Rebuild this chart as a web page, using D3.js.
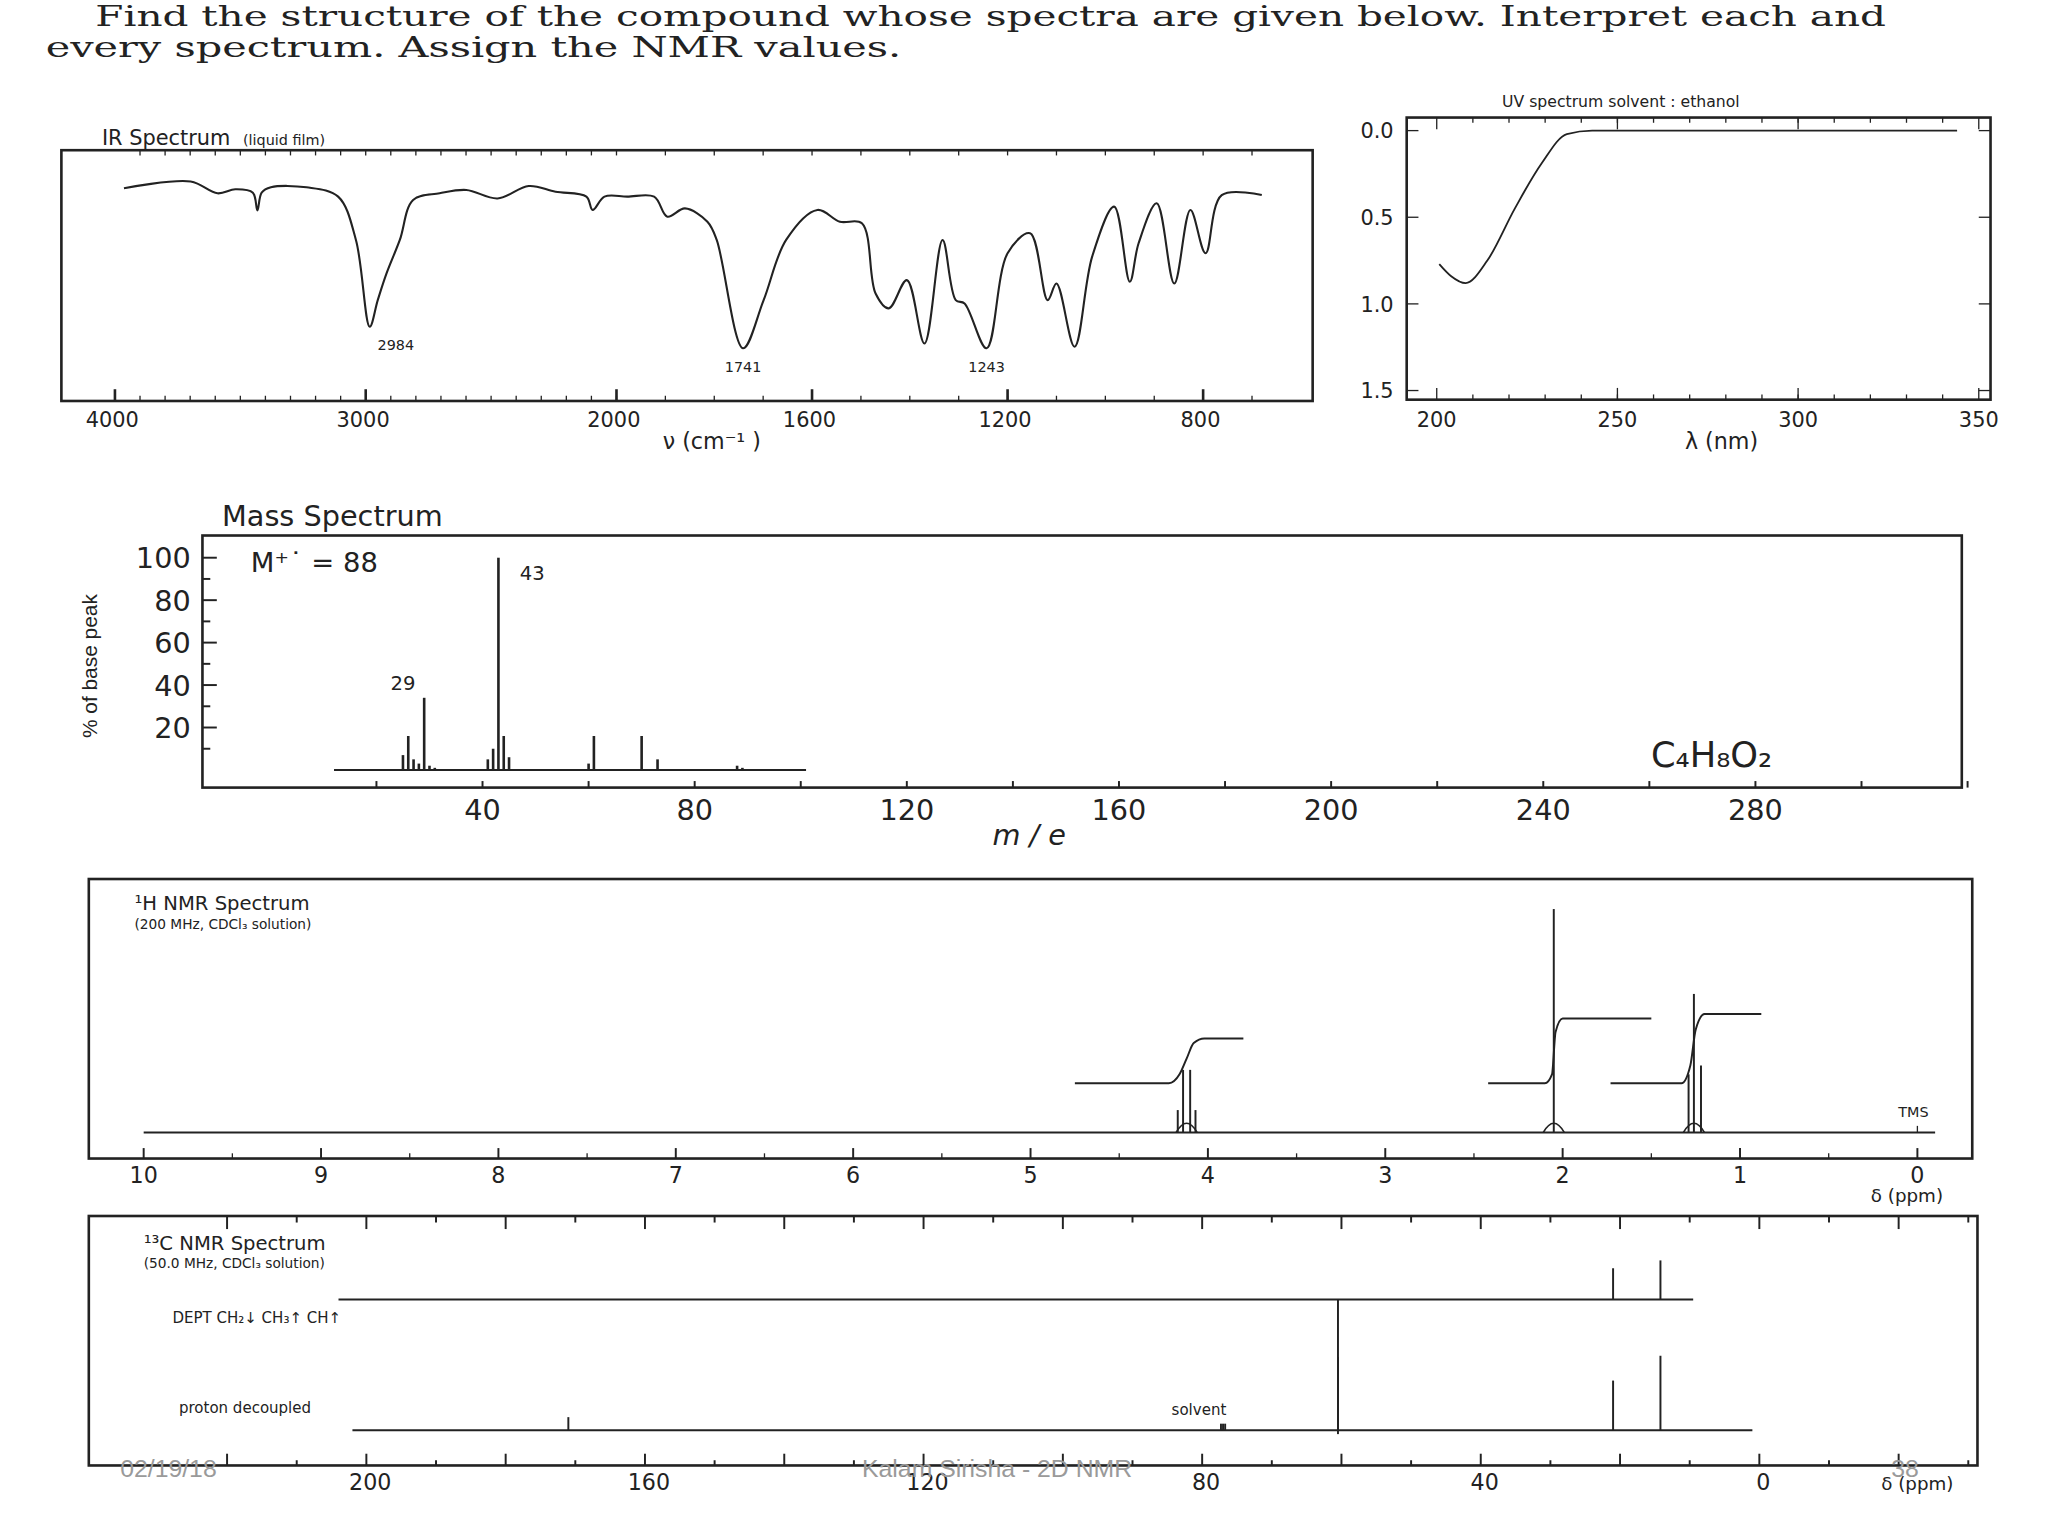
<!DOCTYPE html>
<html><head><meta charset="utf-8">
<script src="https://cdn.jsdelivr.net/npm/d3@7"></script>
<style>
body{margin:0;background:#fff}
svg{display:block}
</style></head>
<body>
<script>
// IR: [wavenumber, %T]
const irData = [[3964,87],[3698,90],[3591,84.7],[3520,86.5],[3450,85],[3432,77],[3415,85],[3378,87.4],[3236,87.4],[3110,83.2],[3039,63.7],[2984,24.6],[2952,36.6],[2917,48.6],[2864,63.7],[2811,81.7],[2705,84.7],[2599,86.2],[2474,82.4],[2350,88],[2243,85.4],[2120,83.2],[2095,77.2],[2048,83.2],[1978,83.2],[1923,83.2],[1896,74.2],[1860,77.9],[1814,71.9],[1795,63.7],[1741,14.9],[1699,36.6],[1653,63.7],[1589,77.2],[1543,71.9],[1498,71.2],[1470,39.6],[1443,32.9],[1406,45.6],[1370,17.1],[1333,63.7],[1306,36.6],[1288,35.1],[1243,14.9],[1200,57.7],[1154,66.7],[1118,36.6],[1100,44.1],[1063,15.6],[1027,56.2],[982,78.7],[950,44.9],[932,62.2],[895,80.2],[859,44.1],[826,77.2],[795,57.7],[762,83.9],[680,83.9]]
const irLabels = [2984, 1741, 1243]
const irTicks = [4000, 3000, 2000, 1600, 1200, 800]
// UV: [nm, absorbance]
const uvData = [[200.7,0.77],[204,0.84],[208,0.88],[214,0.75],[221.6,0.45],[229,0.19],[236,0.02],[243,0],[300,0],[344,0]]
const uvXTicks = [200, 250, 300, 350]
const uvYTicks = [0, 0.5, 1.0, 1.5]
// Mass: [m/e, % of base]
const msPeaks = [[25,7],[26,16],[27,5],[28,3],[29,34],[30,2],[31,1],[41,5],[42,10],[43,100],[44,16],[45,6],[60,3],[61,16],[70,16],[73,5],[88,2],[89,1]]
const msXTicks = [40, 80, 120, 160, 200, 240, 280]
const msYTicks = [20, 40, 60, 80, 100]
// 1H NMR: [ppm, relative height]
const hLines = [[4.17,10],[4.14,28],[4.10,28],[4.07,10],[2.05,100],[1.29,26],[1.26,62],[1.22,30]]
const hIntegrals = [
  [[4.75,22],[4.22,22],[4.16,26],[4.12,33],[4.08,40],[4.02,42],[3.8,42]],
  [[2.42,22],[2.1,22],[2.06,26],[2.04,45],[2.0,51],[1.5,51]],
  [[1.73,22],[1.33,22],[1.28,30],[1.25,46],[1.2,53],[0.88,53]]
]
const hTicks = [10, 9, 8, 7, 6, 5, 4, 3, 2, 1, 0]
// 13C NMR: [ppm, height]
const cDecoupled = [[171,10],[77.3,5],[77.0,5],[76.7,5],[60.5,56],[21,38],[14.2,57]]
const cDept = [[60.5,-103],[21,24],[14.2,30]]
const cTicks = [200, 160, 120, 80, 40, 0]

const svg = d3.select('body').append('svg')
  .attr('width', 2048).attr('height', 1536)
  .attr('viewBox', '0 0 1568 1176')
const ink = '#222'
const wide = '"DejaVu Sans", Verdana, sans-serif'

function txt(x, y, s, size, opts = {}) {
  return svg.append('text').attr('x', x).attr('y', y)
    .attr('font-size', size)
    .attr('text-anchor', opts.anchor || 'start')
    .style('font-family', opts.font || '"Liberation Sans", Arial, sans-serif')
    .style('font-style', opts.italic ? 'italic' : 'normal')
    .style('fill', opts.fill || ink)
    .text(s)
}
function frame(x0, y0, x1, y1) {
  svg.append('rect').attr('x', x0).attr('y', y0).attr('width', x1 - x0).attr('height', y1 - y0)
    .attr('fill', 'none').attr('stroke', ink).attr('stroke-width', 2)
}

// title
const serif = '"DejaVu Serif", "Liberation Serif", serif'
txt(73, 20, 'Find the structure of the compound whose spectra are given below. Interpret each and', 21, { font: serif })
  .attr('textLength', 1371).attr('lengthAdjust', 'spacingAndGlyphs')
txt(35, 44, 'every spectrum. Assign the NMR values.', 21, { font: serif })
  .attr('textLength', 655).attr('lengthAdjust', 'spacingAndGlyphs')

// ---- IR ----
const irX = d3.scaleLinear().domain([4000, 2000, 600]).range([88, 472, 996])
const irY = d3.scaleLinear().domain([0, 100]).range([292, 122])
frame(47, 115, 1005, 307)
svg.append('path').datum(irData)
  .attr('d', d3.line().x(d => irX(d[0])).y(d => irY(d[1])).curve(d3.curveCatmullRom))
  .attr('fill', 'none').attr('stroke', ink).attr('stroke-width', 1.6)
d3.range(3900, 600, -100).forEach(v => {
  svg.append('line').attr('x1', irX(v)).attr('x2', irX(v)).attr('y1', 307).attr('y2', 303).attr('stroke', ink)
  svg.append('line').attr('x1', irX(v)).attr('x2', irX(v)).attr('y1', 115).attr('y2', 119).attr('stroke', ink)
})
irTicks.forEach(v => {
  svg.append('line').attr('x1', irX(v)).attr('x2', irX(v)).attr('y1', 307).attr('y2', 298).attr('stroke', ink).attr('stroke-width', 2)
  txt(irX(v) - 2, 327, v, 16, { anchor: 'middle', font: wide })
})
irLabels.forEach(v => {
  const p = irData.find(d => d[0] === v)
  txt(irX(v) + (v === 2984 ? 20 : 0), irY(p[1]) + 18, v, 11, { anchor: 'middle', font: wide })
})
txt(78, 111, 'IR Spectrum', 16, { font: wide })
txt(186, 111, '(liquid film)', 11, { font: wide })
txt(545, 344, 'ν  (cm⁻¹ )', 17, { anchor: 'middle', font: wide })

// ---- UV ----
const uvX = d3.scaleLinear().domain([200, 350]).range([1100, 1515])
const uvY = d3.scaleLinear().domain([0, 1.5]).range([100, 299])
frame(1077, 90, 1524, 306)
svg.append('path').datum(uvData)
  .attr('d', d3.line().x(d => uvX(d[0])).y(d => uvY(d[1])).curve(d3.curveMonotoneX))
  .attr('fill', 'none').attr('stroke', ink).attr('stroke-width', 1.4)
uvXTicks.forEach(v => {
  txt(uvX(v), 327, v, 16, { anchor: 'middle', font: wide })
  svg.append('line').attr('x1', uvX(v)).attr('x2', uvX(v)).attr('y1', 306).attr('y2', 297).attr('stroke', ink)
  svg.append('line').attr('x1', uvX(v)).attr('x2', uvX(v)).attr('y1', 90).attr('y2', 99).attr('stroke', ink)
})
d3.range(210, 350, 10).forEach(v => {
  svg.append('line').attr('x1', uvX(v)).attr('x2', uvX(v)).attr('y1', 306).attr('y2', 302).attr('stroke', ink)
  svg.append('line').attr('x1', uvX(v)).attr('x2', uvX(v)).attr('y1', 90).attr('y2', 94).attr('stroke', ink)
})
uvYTicks.forEach(v => {
  txt(1067, uvY(v) + 6, v.toFixed(1), 16, { anchor: 'end', font: wide })
  svg.append('line').attr('x1', 1077).attr('x2', 1086).attr('y1', uvY(v)).attr('y2', uvY(v)).attr('stroke', ink)
  svg.append('line').attr('x1', 1515).attr('x2', 1524).attr('y1', uvY(v)).attr('y2', uvY(v)).attr('stroke', ink)
})
txt(1150, 82, 'UV spectrum   solvent : ethanol', 12, { font: wide })
txt(1318, 344, 'λ (nm)', 17, { anchor: 'middle', font: wide })

// ---- Mass ----
const msX = d3.scaleLinear().domain([0, 280]).range([207, 1344])
const msY = d3.scaleLinear().domain([0, 100]).range([589.5, 427])
frame(155, 410, 1502, 603)
svg.append('line').attr('x1', msX(12)).attr('x2', msX(101)).attr('y1', msY(0)).attr('y2', msY(0)).attr('stroke', ink).attr('stroke-width', 1.5)
svg.selectAll('.ms').data(msPeaks).join('line')
  .attr('x1', d => msX(d[0])).attr('x2', d => msX(d[0]))
  .attr('y1', msY(0)).attr('y2', d => msY(d[1]))
  .attr('stroke', ink).attr('stroke-width', 2)
msXTicks.forEach(v => txt(msX(v), 628, v, 22, { anchor: 'middle', font: wide }))
d3.range(20, 340, 20).forEach(v => {
  svg.append('line').attr('x1', msX(v)).attr('x2', msX(v)).attr('y1', 603).attr('y2', 598).attr('stroke', ink).attr('stroke-width', 1.5)
})
msYTicks.forEach(v => txt(146, msY(v) + 8, v, 22, { anchor: 'end', font: wide }))
d3.range(10, 101, 10).forEach(v => {
  svg.append('line').attr('x1', 155).attr('x2', v % 20 ? 161 : 166).attr('y1', msY(v)).attr('y2', msY(v)).attr('stroke', ink).attr('stroke-width', 1.5)
})
txt(170, 403, 'Mass Spectrum', 22, { font: wide })
txt(74, 510, '% of base peak', 16, { anchor: 'middle', font: '"Liberation Sans Narrow", sans-serif' })
  .attr('transform', 'rotate(-90,74,510)')
txt(192, 438, 'M⁺˙ =  88', 21, { font: wide })
txt(398, 444, '43', 15, { font: wide })
txt(299, 528, '29', 15, { font: wide })
txt(1264, 587, 'C₄H₈O₂', 27, { font: wide })
txt(788, 647, 'm / e', 22, { anchor: 'middle', italic: true, font: wide })

// ---- 1H NMR ----
const hX = d3.scaleLinear().domain([10, 0]).range([110, 1468])
const hY = d3.scaleLinear().domain([0, 100]).range([867, 696])
frame(68, 673, 1510, 887)
svg.append('line').attr('x1', hX(10)).attr('x2', hX(-0.1)).attr('y1', hY(0)).attr('y2', hY(0)).attr('stroke', ink).attr('stroke-width', 1.5)
svg.selectAll('.hl').data(hLines).join('line')
  .attr('x1', d => hX(d[0])).attr('x2', d => hX(d[0]))
  .attr('y1', hY(0)).attr('y2', d => hY(d[1]))
  .attr('stroke', ink).attr('stroke-width', 1.5)
;[4.12, 2.05, 1.26].forEach(c => {
  svg.append('path').attr('d', `M${hX(c) - 8},${hY(0)} Q${hX(c)},${hY(0) - 14} ${hX(c) + 8},${hY(0)}`)
    .attr('fill', 'none').attr('stroke', ink).attr('stroke-width', 1.3)
})
hIntegrals.forEach(pts => {
  svg.append('path').datum(pts)
    .attr('d', d3.line().x(d => hX(d[0])).y(d => hY(d[1])).curve(d3.curveMonotoneX))
    .attr('fill', 'none').attr('stroke', ink).attr('stroke-width', 1.5)
})
svg.append('line').attr('x1', hX(0)).attr('x2', hX(0)).attr('y1', hY(0)).attr('y2', hY(0) - 5).attr('stroke', ink)
txt(1465, 855, 'TMS', 11, { anchor: 'middle', font: wide })
hTicks.forEach(v => {
  txt(hX(v), 906, v, 17, { anchor: 'middle', font: wide })
  svg.append('line').attr('x1', hX(v)).attr('x2', hX(v)).attr('y1', 887).attr('y2', 879).attr('stroke', ink).attr('stroke-width', 1.5)
  if (v > 0) svg.append('line').attr('x1', hX(v - 0.5)).attr('x2', hX(v - 0.5)).attr('y1', 887).attr('y2', 883).attr('stroke', ink)
})
txt(1460, 920, 'δ (ppm)', 14, { anchor: 'middle', font: wide })
txt(103, 697, '¹H NMR Spectrum', 15, { font: wide })
txt(103, 711, '(200 MHz, CDCl₃ solution)', 10.5, { font: wide })

// ---- 13C NMR ----
const cX = d3.scaleLinear().domain([200, 0]).range([280.5, 1347])
const cBase = 1095, dBase = 995
frame(68, 931, 1514, 1122)
svg.append('line').attr('x1', cX(202)).attr('x2', cX(1)).attr('y1', cBase).attr('y2', cBase).attr('stroke', ink).attr('stroke-width', 1.5)
svg.append('line').attr('x1', cX(204)).attr('x2', cX(9.5)).attr('y1', dBase).attr('y2', dBase).attr('stroke', ink).attr('stroke-width', 1.5)
svg.selectAll('.cd').data(cDecoupled).join('line')
  .attr('x1', d => cX(d[0])).attr('x2', d => cX(d[0]))
  .attr('y1', cBase).attr('y2', d => cBase - d[1])
  .attr('stroke', ink).attr('stroke-width', 1.5)
svg.selectAll('.cp').data(cDept).join('line')
  .attr('x1', d => cX(d[0])).attr('x2', d => cX(d[0]))
  .attr('y1', dBase).attr('y2', d => dBase - d[1])
  .attr('stroke', ink).attr('stroke-width', 1.5)
d3.range(-30, 221, 10).forEach(v => {
  const x = cX(v)
  if (x < 70 || x > 1512) return
  const big = v % 20 === 0
  svg.append('line').attr('x1', x).attr('x2', x).attr('y1', 931).attr('y2', 931 + (big ? 10 : 5)).attr('stroke', ink).attr('stroke-width', 1.5)
  svg.append('line').attr('x1', x).attr('x2', x).attr('y1', 1122).attr('y2', 1122 - (big ? 9 : 4)).attr('stroke', ink).attr('stroke-width', 1.5)
})
cTicks.forEach(v => txt(cX(v) + 3, 1141, v, 17, { anchor: 'middle', font: wide }))
txt(1468, 1141, 'δ (ppm)', 14, { anchor: 'middle', font: wide })
txt(110, 957, '¹³C NMR Spectrum', 15, { font: wide })
txt(110, 971, '(50.0 MHz, CDCl₃ solution)', 10.5, { font: wide })
txt(132, 1013, 'DEPT   CH₂↓   CH₃↑   CH↑', 11.5, { font: wide })
txt(137, 1082, 'proton decoupled', 11.5, { font: wide })
txt(897, 1083, 'solvent', 11.5, { font: wide })

// slide footer
const grey = '#9a9a9a'
const narrow = '"Liberation Sans Narrow", sans-serif'
txt(92, 1131, '02/19/18', 19, { font: narrow, fill: grey })
txt(660, 1131, 'Kalam Sirisha - 2D NMR', 19, { font: narrow, fill: grey })
txt(1448, 1131, '38', 19, { font: narrow, fill: grey })
</script>
</body></html>
